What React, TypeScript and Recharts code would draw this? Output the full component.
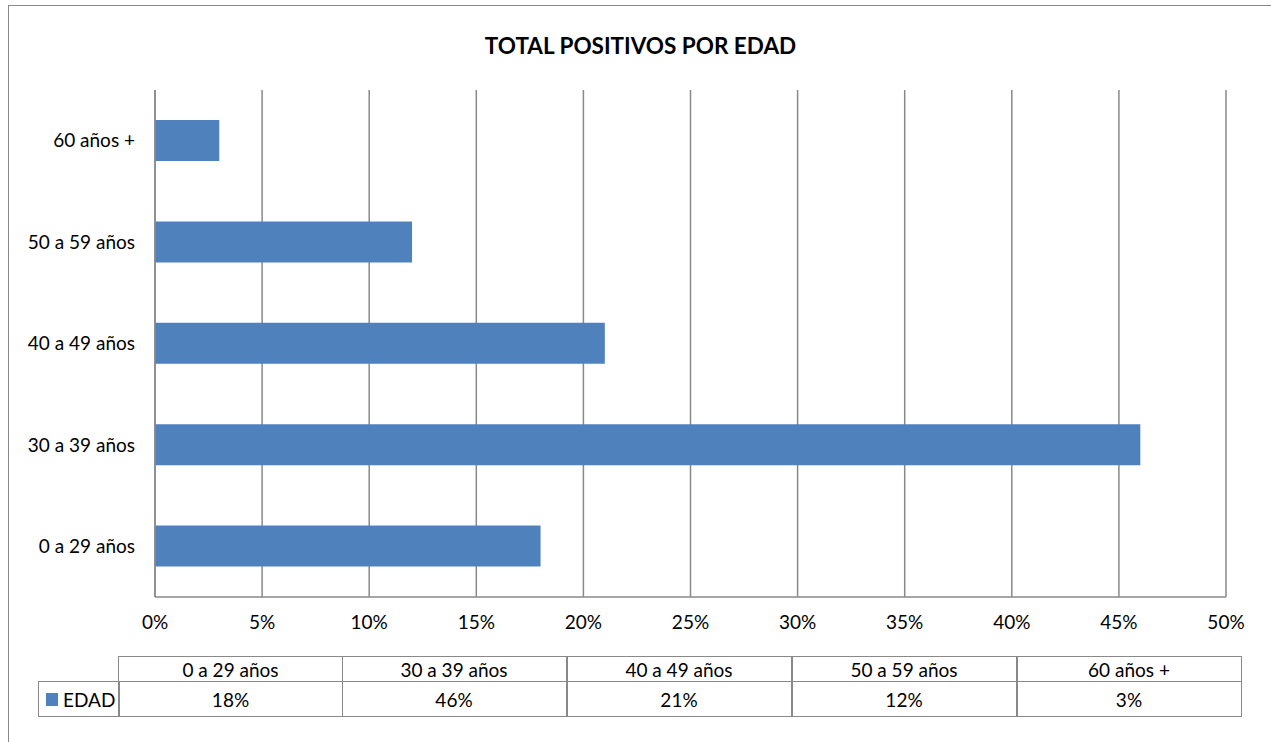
import React from "react";
import { BarChart, Bar, XAxis, YAxis, CartesianGrid } from "recharts";

const title = "TOTAL POSITIVOS POR EDAD";
const seriesName = "EDAD";
const categories = ["0 a 29 años", "30 a 39 años", "40 a 49 años", "50 a 59 años", "60 años +"];
const values = [18, 46, 21, 12, 3];
const xTicks = [0, 5, 10, 15, 20, 25, 30, 35, 40, 45, 50];

const BLUE = "#4F81BD";
const GRAY = "#898989";
const FONT = "Lato, 'Open Sans', sans-serif";

const chartData = categories.map((c, i) => ({ name: c, value: values[i] })).reverse();

export default function App() {
  const colW = 225;
  const tableLeft = 118;
  return (
    <div style={{ position: "absolute", left: 0, top: 0, width: 1271, height: 742, overflow: "hidden", background: "#fff", fontFamily: FONT }}>
      <div style={{ position: "absolute", left: 8, top: 5, width: 1300, height: 800, border: `1.5px solid ${GRAY}`, boxSizing: "border-box" }} />
      <div style={{ position: "absolute", left: 0, top: 32, width: 1281, textAlign: "center", fontWeight: 700, fontSize: 22.5, color: "#000" }}>{title}</div>
      <div style={{ position: "absolute", left: 0, top: 0 }}>
        <BarChart
          width={1271}
          height={660}
          data={chartData}
          layout="vertical"
          margin={{ top: 90, right: 45, bottom: 23, left: 0 }}
        >
          <CartesianGrid horizontal={false} vertical={true} stroke={GRAY} strokeWidth={1.5} />
          <XAxis
            type="number"
            domain={[0, 50]}
            ticks={xTicks}
            interval={0}
            tickFormatter={(v: number) => `${v}%`}
            axisLine={{ stroke: GRAY, strokeWidth: 1.5 }}
            tickLine={false}
            tickMargin={13}
            height={40}
            tick={{ fill: "#000", fontSize: 19, fontFamily: FONT }}
          />
          <YAxis
            type="category"
            dataKey="name"
            width={155}
            axisLine={{ stroke: GRAY, strokeWidth: 1.5 }}
            tickLine={false}
            tickMargin={14}
            tick={{ fill: "#000", fontSize: 19, fontFamily: FONT }}
          />
          <Bar dataKey="value" fill={BLUE} barSize={41} isAnimationActive={false} />
        </BarChart>
      </div>
      {/* data table */}
      {categories.map((c, i) => (
        <div key={"h" + i} style={{ position: "absolute", left: tableLeft + i * colW, top: 656, width: colW, height: 26, border: `1.5px solid ${GRAY}`, boxSizing: "border-box", display: "flex", alignItems: "center", justifyContent: "center", fontSize: 19, color: "#000", marginLeft: i ? -1.5 : 0 }}>{c}</div>
      ))}
      {values.map((v, i) => (
        <div key={"v" + i} style={{ position: "absolute", left: tableLeft + i * colW, top: 681, width: colW, height: 36, border: `1.5px solid ${GRAY}`, boxSizing: "border-box", display: "flex", alignItems: "center", justifyContent: "center", fontSize: 19, color: "#000", marginLeft: i ? -1.5 : 0 }}>{v}%</div>
      ))}
      <div style={{ position: "absolute", left: 38, top: 681, width: 81.5, height: 36, border: `1.5px solid ${GRAY}`, boxSizing: "border-box", display: "flex", alignItems: "center", fontSize: 19, color: "#000" }}>
        <span style={{ display: "inline-block", width: 12, height: 13, background: BLUE, marginLeft: 7, marginRight: 5 }} />
        {seriesName}
      </div>
    </div>
  );
}
